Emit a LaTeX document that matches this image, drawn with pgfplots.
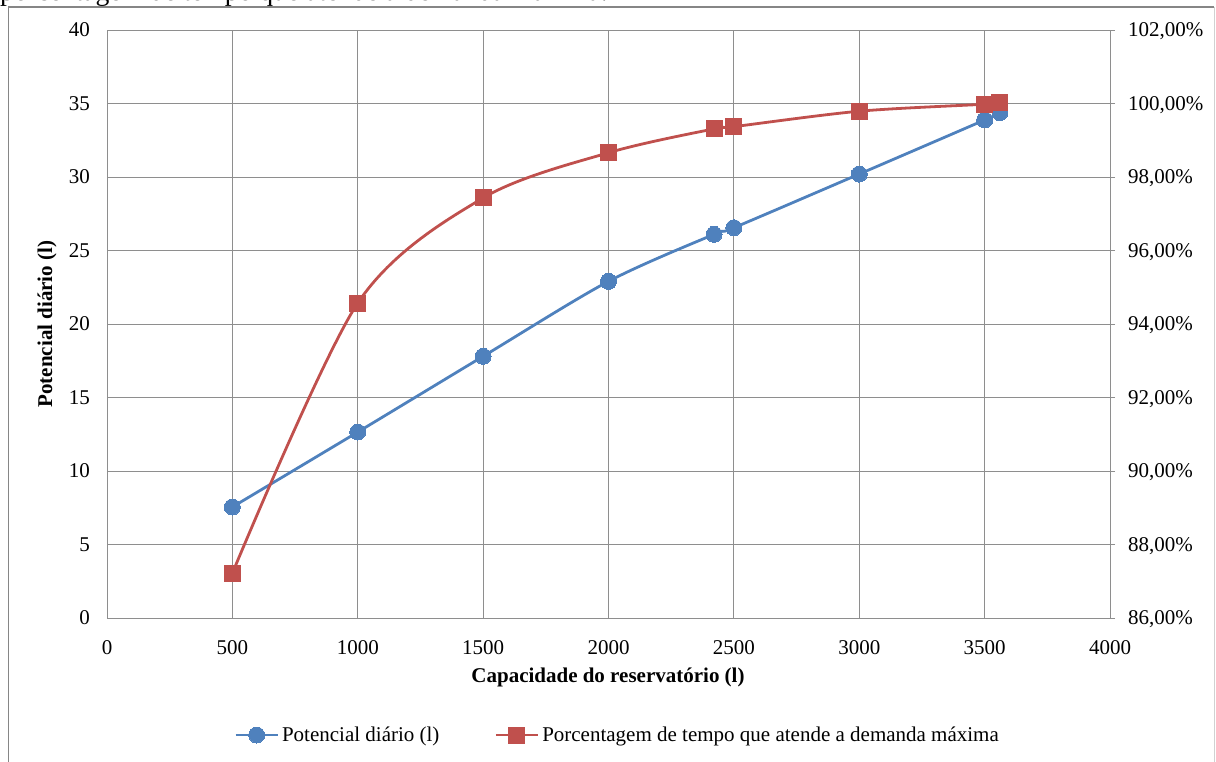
\documentclass[border=0pt]{standalone}
\usepackage{fontspec}
\setmainfont{Liberation Serif}
\usepackage{pgfplots}
\pgfplotsset{compat=1.18}
\definecolor{sblue}{HTML}{4F81BD}
\definecolor{sred}{HTML}{C0504D}
\definecolor{gridc}{HTML}{8E8E8E}
\definecolor{framec}{HTML}{868686}
\newcommand\fs{\fontsize{21}{25}\selectfont}

\pgfplotstableread{
x y
500 7.55
1000 12.65
1500 17.8
2000 22.9
2421 26.1
2500 26.55
3000 30.2
3500 33.88
3561 34.38
}\bluedata

\pgfplotstableread{
x y
500 87.22
1000 94.57
1500 97.43
2000 98.66
2421 99.31
2500 99.37
3000 99.79
3500 99.98
3561 100.02
}\reddata

\pgfplotsset{
  common/.style={
    scale only axis, width=1003pt, height=588pt,
    at={(107pt,144pt)}, anchor=south west,
    xmin=0, xmax=4000,
    tick label style={font=\fs},
    /pgf/number format/assume math mode=true,
    /pgf/number format/1000 sep={},
    axis line style={gridc, line width=0.9pt},
  },
  legend image code/.code={\draw[mark repeat=2,mark phase=2] plot coordinates {(0pt,0pt)(21pt,0pt)(42pt,0pt)};},
}

\begin{document}
\begin{tikzpicture}
\useasboundingbox (0,0) rectangle (1216pt,762pt);
\node[anchor=base west, inner sep=0pt, font=\fontsize{27.7}{32}\selectfont] at (0pt,761.6pt) {porcentagem de tempo que atende a demanda máxima.};
\draw[framec, line width=1.2pt] (8.5pt,-20pt) -- (8.5pt,755pt) -- (1214pt,755pt);
\draw[black!18, line width=1pt] (1214pt,755pt) -- (1214pt,-20pt);

\begin{axis}[common,
  ymin=0, ymax=40, ytick={0,5,...,40}, xtick={0,500,...,4000},
  grid=major, major grid style={gridc, line width=0.9pt},
  major tick length=0pt,
  yticklabel style={anchor=east, inner sep=0pt, xshift=-17pt},
  xticklabel style={anchor=north, inner sep=0pt, yshift=-22pt},
  xlabel={Capacidade do reservatório (l)},
  ylabel={Potencial diário (l)},
  xlabel style={at={(0.4995,-0.1003)}, anchor=center, font=\fs\bfseries},
  ylabel style={at={(-0.0598,0.5)}, anchor=center, font=\fs\bfseries},
]
\addplot[sblue, line width=2.8pt, smooth, tension=0.5, mark=*, mark size=8pt, mark options={solid, fill=sblue, draw=sblue, line width=0pt}] table[x=x,y=y] {\bluedata};
\end{axis}

\begin{axis}[common,
  ymin=86, ymax=102, axis y line*=right, axis x line=none,
  ytick={86,88,...,102},
  yticklabels={{86,00\%},{88,00\%},{90,00\%},{92,00\%},{94,00\%},{96,00\%},{98,00\%},{100,00\%},{102,00\%}},
  tick align=outside, major tick length=5pt,
  ytick style={gridc, line width=0.9pt},
  yticklabel style={anchor=west, inner sep=0pt, xshift=13pt, text depth=0pt, text height=14pt},
  legend columns=2,
  legend style={at={(0.508,-0.199)}, anchor=center, draw=none, fill=none, font=\fs,
    nodes={inner sep=0pt},
    /tikz/every even column/.append style={column sep=55pt},
    /tikz/every odd column/.append style={column sep=3pt}},
]
\addlegendimage{sblue, line width=2.8pt, mark=*, mark size=8pt, mark options={solid, fill=sblue, draw=sblue, line width=0pt}}
\addlegendentry{Potencial diário (l)}
\addplot[sred, line width=2.8pt, smooth, tension=0.5, mark=square*, mark size=8pt, mark options={solid, fill=sred, draw=sred, line width=0pt}] table[x=x,y=y] {\reddata};
\addlegendentry{Porcentagem de tempo que atende a demanda máxima}
\end{axis}
\end{tikzpicture}
\end{document}
